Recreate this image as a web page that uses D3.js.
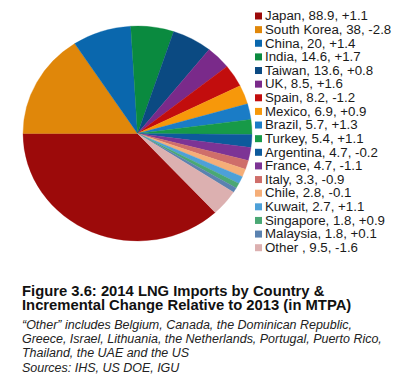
<!DOCTYPE html>
<html>
<head>
<meta charset="utf-8">
<script src="https://cdn.jsdelivr.net/npm/d3@7"></script>
<style>
body{margin:0;background:#fff;}
svg{display:block;font-family:"Liberation Sans",Arial,Helvetica,sans-serif;}
</style>
</head>
<body>
<svg id="box" width="418" height="386"></svg>
<script>
let countries=["Japan","South Korea","China","India","Taiwan","UK","Spain","Mexico","Brazil","Turkey","Argentina","France","Italy","Chile","Kuwait","Singapore","Malaysia","Other "];
let imports=[88.9,38,20,14.6,13.6,8.5,8.2,6.9,5.7,5.4,4.7,4.7,3.3,2.8,2.7,1.8,1.8,9.5];
let change=["+1.1","-2.8","+1.4","+1.7","+0.8","+1.6","-1.2","+0.9","+1.3","+1.1","-0.2","-1.1","-0.9","-0.1","+1.1","+0.9","+0.1","-1.6"];
let colors=["#9c0a0a","#e0870a","#0a67ad","#0a8a3f","#0b4a82","#7a2a8a","#c20d0d","#f7980a","#1a7cc6","#179a48","#0d5a9c","#7d3495","#cf6e6a","#f5ae78","#4da0d8","#4aa874","#5a82b0","#dcb0b0"];
let titleLines=["Figure 3.6: 2014 LNG Imports by Country &","Incremental Change Relative to 2013 (in MTPA)"];
let noteLines=["\u201cOther\u201d includes Belgium, Canada, the Dominican Republic,","Greece, Israel, Lithuania, the Netherlands, Portugal, Puerto Rico,","Thailand, the UAE and the US"];
let source="Sources: IHS, US DOE, IGU";

let box=d3.select("#box");
let total=d3.sum(imports);
// japan slice ends at 9 o'clock
let start=1.5*Math.PI-2*Math.PI*imports[0]/total;
let pie=d3.pie().sort(null).startAngle(start).endAngle(start+2*Math.PI);
let r=107.5;
let arc=d3.arc().innerRadius(0).outerRadius(r);
let g=box.append("g").attr("transform","translate(137.5,133.5) scale(1.065,1)");
g.selectAll("path").data(pie(imports)).enter().append("path")
  .attr("d",arc).attr("fill",(d,i)=>colors[i]).attr("stroke",(d,i)=>colors[i]).attr("stroke-width",0.3);

let yLeg=d3.scalePoint().domain(countries).range([16,247.7]);
let leg=box.append("g");
leg.selectAll("rect").data(countries).enter().append("rect")
  .attr("x",255).attr("y",d=>yLeg(d)-3.5).attr("width",7).attr("height",7)
  .attr("fill",(d,i)=>colors[i]);
leg.append("g").attr("transform","translate(265,0) scale(1.08,1)")
  .selectAll("text").data(countries).enter().append("text")
  .attr("x",0).attr("y",d=>yLeg(d)+4.3)
  .style("font-size","12.3px").attr("fill","#1a1a1a")
  .text((d,i)=>d+", "+imports[i]+", "+change[i]);

box.append("g").attr("transform","translate(22,0) scale(1.065,1)")
  .selectAll("text").data(titleLines).enter().append("text")
  .attr("x",0).attr("y",(d,i)=>296.5+i*14)
  .style("font-size","13.9px").style("font-weight","bold").attr("fill","#111")
  .text(d=>d);
let ng=box.append("g").attr("transform","translate(22,0) scale(1.04,1)");
ng.selectAll("text").data(noteLines).enter().append("text")
  .attr("x",0).attr("y",(d,i)=>329+i*14)
  .style("font-size","12px").style("font-style","italic").attr("fill","#222")
  .text(d=>d);
ng.append("text").attr("x",0).attr("y",372)
  .style("font-size","12px").style("font-style","italic").attr("fill","#222")
  .text(source);
</script>
</body>
</html>
